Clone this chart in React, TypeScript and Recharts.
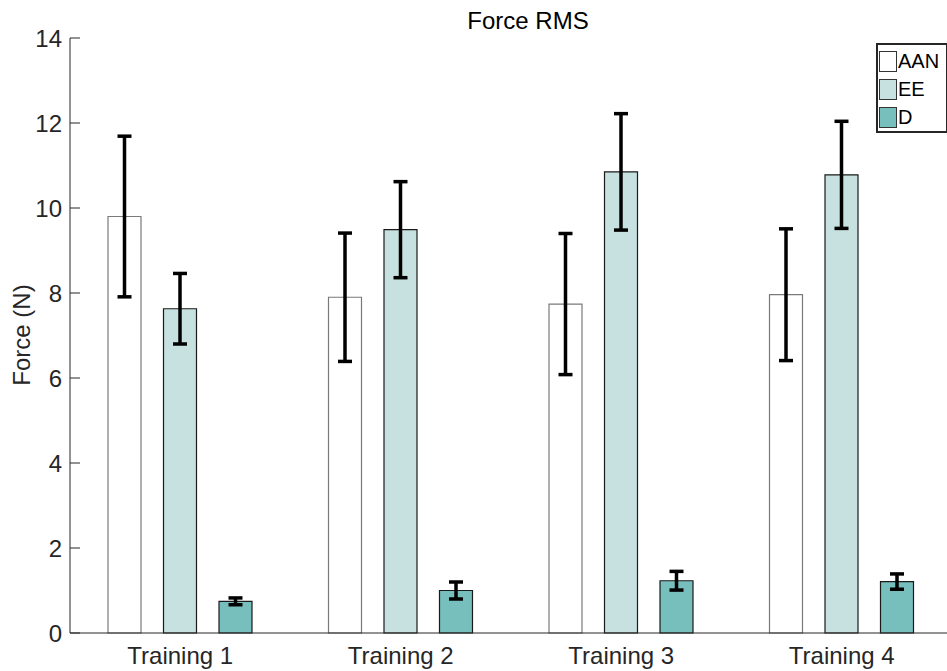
import React from 'react';
import { BarChart, Bar, XAxis, YAxis, ErrorBar, Legend } from 'recharts';

const categories = ['Training 1', 'Training 2', 'Training 3', 'Training 4'];
const aanValues = [9.8, 7.9, 7.74, 7.96];
const aanErrors = [1.89, 1.51, 1.66, 1.55];
const eeValues = [7.63, 9.49, 10.85, 10.78];
const eeErrors = [0.83, 1.13, 1.37, 1.26];
const dValues = [0.745, 1.0, 1.23, 1.21];
const dErrors = [0.08, 0.2, 0.22, 0.18];
const yTicks = [0, 2, 4, 6, 8, 10, 12, 14];

const FONT = '"Liberation Sans", Arial, Helvetica, sans-serif';
const TEXT = '#262626';

const series = [
	{ key: 'AAN', err: 'AANerr', fill: '#ffffff', stroke: '#7a7a7a' },
	{ key: 'EE', err: 'EEerr', fill: '#c6e1e0', stroke: '#1a1a1a' },
	{ key: 'D', err: 'Derr', fill: '#77bfbd', stroke: '#1a1a1a' },
];

const data = categories.map((name, i) => ({
	name,
	AAN: aanValues[i],
	AANerr: aanErrors[i],
	EE: eeValues[i],
	EEerr: eeErrors[i],
	D: dValues[i],
	Derr: dErrors[i],
}));

const YTick = (props: any) => {
	const { x, y, payload } = props;
	return (
		<g>
			<line x1={x + 8} y1={y} x2={x + 18} y2={y} stroke={TEXT} strokeWidth={1} />
			<text x={x} y={y + 8.5} textAnchor="end" fontSize={24} fill={TEXT} fontFamily={FONT}>
				{payload.value}
			</text>
		</g>
	);
};

const XTick = (props: any) => {
	const { x, y, payload } = props;
	return (
		<text x={x} y={y + 23} textAnchor="middle" fontSize={24} fill={TEXT} fontFamily={FONT}>
			{payload.value}
		</text>
	);
};

const LegendBox = () => (
	<div
		style={{
			border: '2px solid #262626',
			background: '#fff',
			padding: '2px 0 0 1px',
			width: 72,
			boxSizing: 'border-box',
			fontFamily: FONT,
			fontSize: 20,
			color: '#000',
		}}
	>
		{series.map((s) => (
			<div key={s.key} style={{ display: 'flex', alignItems: 'center', height: 28 }}>
				<span
					style={{
						display: 'inline-block',
						width: 16,
						height: 19,
						background: s.fill,
						border: '1px solid #333',
						marginRight: 1,
					}}
				/>
				<span style={{ lineHeight: '20px' }}>{s.key}</span>
			</div>
		))}
	</div>
);

const App = () => {
	return (
		<div
			style={{
				position: 'fixed',
				left: 0,
				top: 0,
				width: 947,
				height: 671,
				overflow: 'hidden',
				background: '#fff',
			}}
		>
			<div
				style={{
					position: 'absolute',
					left: 0,
					top: 7,
					width: 1056,
					textAlign: 'center',
					fontFamily: FONT,
					fontSize: 24,
					color: '#000',
					lineHeight: '28px',
					zIndex: 2,
				}}
			>
				Force RMS
			</div>
			<BarChart
				width={960}
				height={671}
				data={data}
				margin={{ top: 38, right: 8, bottom: 0, left: 0 }}
				barSize={33}
				barGap={22.5}
			>
				<XAxis
					dataKey="name"
					height={38}
					stroke={TEXT}
					tickLine={false}
					tick={<XTick />}
					interval={0}
				/>
				<YAxis
					domain={[0, 14]}
					ticks={yTicks}
					width={70}
					stroke={TEXT}
					tickLine={false}
					tick={<YTick />}
					interval={0}
					label={{
						content: () => (
							<text
								x={30}
								y={335}
								transform="rotate(-90 30 335)"
								textAnchor="middle"
								fontSize={24}
								fill={TEXT}
								fontFamily={FONT}
							>
								Force (N)
							</text>
						),
					}}
				/>
				<Legend
					layout="horizontal"
					verticalAlign="middle"
					align="center"
					content={<LegendBox />}
					wrapperStyle={{ top: 43, left: 876, width: 72, height: 'auto' }}
				/>
				{series.map((s) => (
					<Bar
						key={s.key}
						dataKey={s.key}
						fill={s.fill}
						stroke={s.stroke}
						strokeWidth={1.2}
						isAnimationActive={false}
					>
						<ErrorBar dataKey={s.err} direction="y" width={7} stroke="#000" strokeWidth={3.5} />
					</Bar>
				))}
			</BarChart>
		</div>
	);
};

export default App;
